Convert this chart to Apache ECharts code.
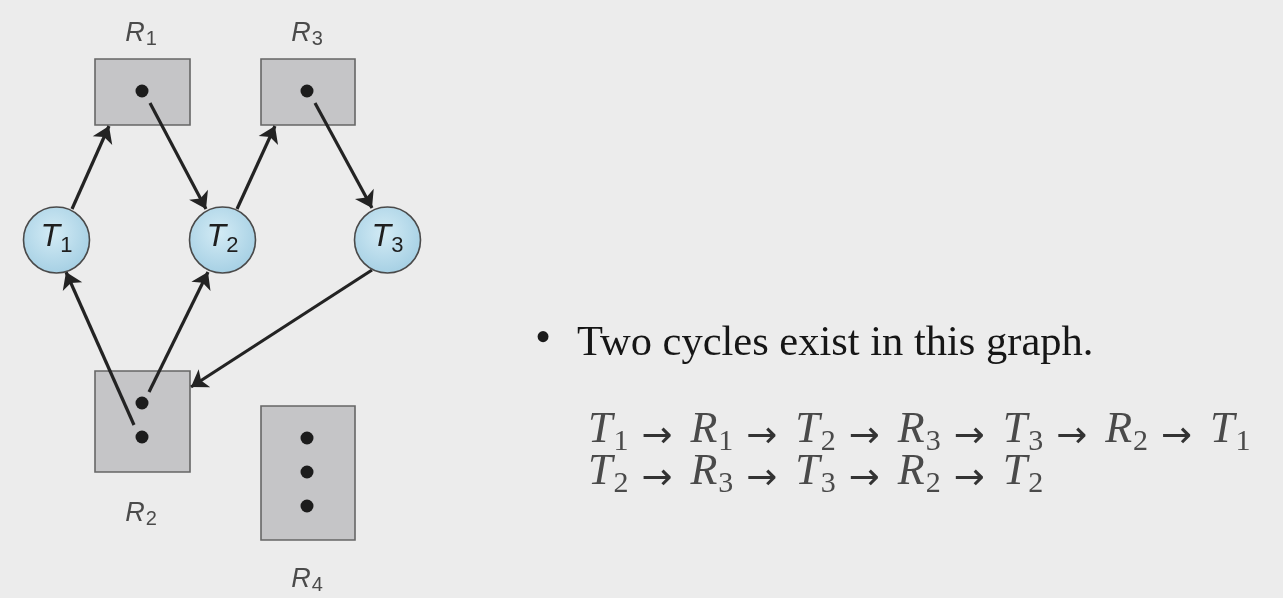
<!DOCTYPE html>
<html><head><meta charset="utf-8">
<script src="https://cdn.jsdelivr.net/npm/echarts@6/dist/echarts.min.js"></script>
<style>html,body{margin:0;padding:0;background:#ececec}#c{width:1283px;height:598px}</style>
</head><body><div id="c"></div>
<script>
// ---- data ----
const resourceNames = ['R1', 'R2', 'R3', 'R4'];
const resourceBoxes = [[95, 59, 190, 125], [95, 371, 190, 472], [261, 59, 355, 125], [261, 406, 355, 540]];
const resourceLabelPos = [[141, 33], [141, 513], [307, 33], [307, 579]];
const instanceDots = [[142, 91], [142, 403], [142, 437], [307, 91], [307, 438], [307, 472], [307, 506]];
const threadNames = ['T1', 'T2', 'T3'];
const threadPos = [[56.5, 240], [222.5, 240], [387.5, 240]];
const edgeNames = ['T1→R1', 'R1→T2', 'T2→R3', 'R3→T3', 'R2→T1', 'R2→T2', 'T3→R2'];
const edgeCoords = [
  [[72, 209], [109, 126]],
  [[150, 103], [206, 209]],
  [[237, 209], [275, 126]],
  [[315, 103], [372, 208]],
  [[134, 425], [66, 272]],
  [[149, 392], [208, 272]],
  [[372, 270], [191, 387]]
];
const bulletText = 'Two cycles exist in this graph.';
const cycle1 = ['T1', 'R1', 'T2', 'R3', 'T3', 'R2', 'T1'];
const cycle2 = ['T2', 'R3', 'T3', 'R2', 'T2'];

// ---- helpers ----
function subLabel(name) { return '{m|' + name[0] + '}{s|' + name.slice(1) + '}'; }
function cycleRich(list) {
  return list.map(n => '{m|' + n[0] + '}{s|' + n.slice(1) + '}').join('{a|→}');
}
const formulaRich = {
  m: { fontFamily: 'Liberation Serif', fontStyle: 'italic', fontSize: 44, lineHeight: 44, fill: '#4a4a4a' },
  s: { fontFamily: 'Liberation Serif', fontSize: 30, lineHeight: 30, padding: [25, 0, 0, 1], fill: '#4a4a4a' },
  a: { fontFamily: 'DejaVu Sans', fontSize: 37, lineHeight: 37, padding: [15, 18, 0, 13], fill: '#333333' }
};

const chart = echarts.init(document.getElementById('c'));
const option = {
  backgroundColor: '#ececec',
  animation: false,
  grid: { left: 0, right: 0, top: 0, bottom: 0 },
  xAxis: { type: 'value', min: 0, max: 1283, show: false },
  yAxis: { type: 'value', min: 0, max: 598, inverse: true, show: false },
  series: [
    {
      type: 'custom', z: 1,
      data: resourceBoxes,
      renderItem: function (params, api) {
        const p1 = api.coord([api.value(0), api.value(1)]);
        const p2 = api.coord([api.value(2), api.value(3)]);
        return {
          type: 'rect',
          shape: { x: p1[0], y: p1[1], width: p2[0] - p1[0], height: p2[1] - p1[1] },
          style: { fill: '#c5c5c7', stroke: '#666666', lineWidth: 1.6 }
        };
      }
    },
    {
      type: 'lines', coordinateSystem: 'cartesian2d', z: 3,
      symbol: ['none', 'arrow'], symbolSize: 16,
      lineStyle: { color: '#232323', width: 3.2, opacity: 1 },
      data: edgeCoords.map((c, i) => ({ name: edgeNames[i], coords: c }))
    },
    {
      type: 'scatter', z: 4, symbolSize: 13,
      itemStyle: { color: '#1c1c1c', opacity: 1 },
      data: instanceDots
    },
    {
      type: 'scatter', z: 5, symbolSize: 66,
      itemStyle: {
        color: { type: 'radial', x: 0.45, y: 0.4, r: 0.6, colorStops: [{ offset: 0, color: '#d3ebf5' }, { offset: 1, color: '#a6d0e4' }] },
        borderColor: '#4a4a4a', borderWidth: 1.6, opacity: 1
      },
      label: {
        show: true, position: 'inside', offset: [0, -3],
        formatter: p => subLabel(p.name),
        rich: {
          m: { fontFamily: 'Liberation Sans', fontStyle: 'italic', fontSize: 32, lineHeight: 32, color: '#1f1f1f' },
          s: { fontFamily: 'Liberation Sans', fontSize: 22, lineHeight: 22, padding: [17, 0, 0, 0], color: '#1f1f1f' }
        }
      },
      data: threadNames.map((n, i) => ({ name: n, value: threadPos[i] }))
    },
    {
      type: 'scatter', z: 5, symbolSize: 0,
      label: {
        show: true, position: 'inside',
        formatter: p => subLabel(p.name),
        rich: {
          m: { fontFamily: 'Liberation Sans', fontStyle: 'italic', fontSize: 27, lineHeight: 27, color: '#222222' },
          s: { fontFamily: 'Liberation Sans', fontSize: 20, lineHeight: 20, padding: [13, 0, 0, 1], color: '#222222' }
        }
      },
      data: resourceNames.map((n, i) => ({ name: n, value: resourceLabelPos[i] }))
    }
  ],
  graphic: [
    { type: 'text', x: 535, y: 340, style: { text: '•', font: '46px "Liberation Serif"', fill: '#1a1a1a', verticalAlign: 'middle' } },
    { type: 'text', x: 577, y: 344, style: { text: bulletText, font: '42.5px "Liberation Serif"', fill: '#161616', verticalAlign: 'middle' } },
    { type: 'text', x: 588, y: 430, style: { text: cycleRich(cycle1), verticalAlign: 'middle', rich: formulaRich } },
    { type: 'text', x: 588, y: 472, style: { text: cycleRich(cycle2), verticalAlign: 'middle', rich: formulaRich } }
  ]
};
chart.setOption(option);
</script></body></html>
